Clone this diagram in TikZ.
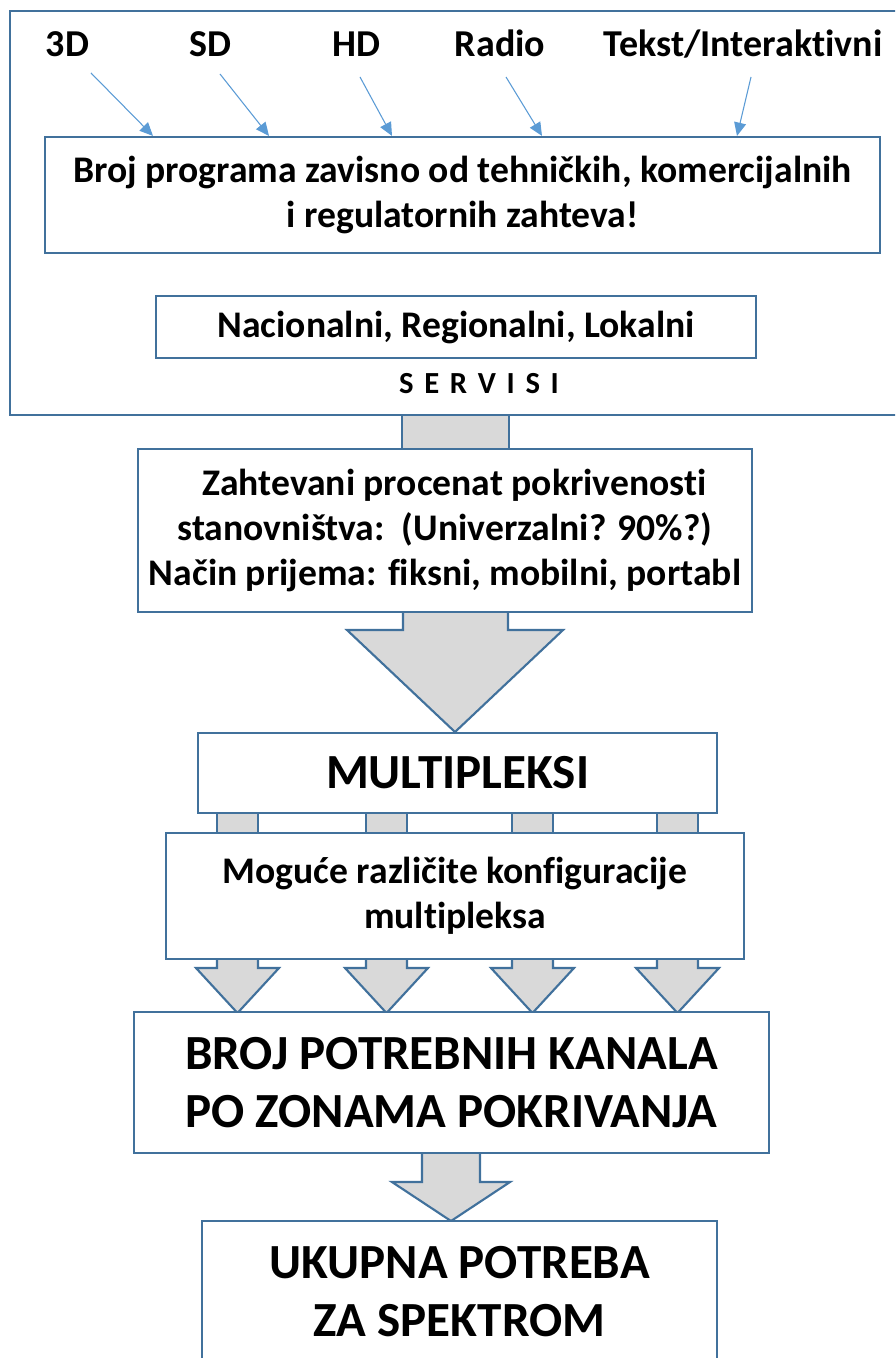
\documentclass[tikz,border=0pt]{standalone}
\usepackage{fontspec}
\setmainfont{Carlito}[Ligatures=NoCommon]
\usetikzlibrary{arrows.meta}
\definecolor{bord}{HTML}{41719C}
\definecolor{thinb}{HTML}{5B9BD5}
\definecolor{fillg}{HTML}{D9D9D9}
\begin{document}
\begin{tikzpicture}[x=0.75pt,y=-0.75pt,
 box/.style={draw=bord, line width=1.6pt, fill=white, inner sep=0pt, align=center},
 blk/.style={draw=bord, line width=1.6pt, fill=fillg, line join=miter},
 thinarr/.style={draw=thinb, line width=0.8pt, -{Triangle[length=10pt,width=9pt]}},
 lbl/.style={font=\fontsize{28.5}{32}\selectfont\bfseries, inner sep=0pt, anchor=base},
 mid/.style={font=\fontsize{28.2}{33.5}\selectfont\bfseries},
 big/.style={font=\fontsize{36.8}{44}\selectfont\bfseries}
]
\useasboundingbox (0,0) rectangle (895,1358);
\clip (0,0) rectangle (895,1358);
% outer frame
\draw[draw=bord, line width=1.6pt] (10,11) rectangle (910,415);
% block arrows
\draw[blk] (402,415) rectangle (509,455);
\draw[blk] (403,605) -- (403,630) -- (347,630) -- (455,732) -- (563,630) -- (508,630) -- (508,605) -- cycle;
\foreach \cx in {237.5,386.5,532.5,677.5}{
  \draw[blk] (\cx-20.5,805) rectangle (\cx+20.5,840);
  \draw[blk] (\cx-20.5,950) -- (\cx-20.5,968) -- (\cx-41.5,968) -- (\cx,1013) -- (\cx+41.5,968) -- (\cx+20.5,968) -- (\cx+20.5,950) -- cycle;
}
\draw[blk] (422,1145) -- (422,1182) -- (392,1182) -- (451,1221) -- (510,1182) -- (480,1182) -- (480,1145) -- cycle;
% boxes
\node[box,mid,minimum width=835*0.75pt,minimum height=116*0.75pt] (b1) at (462.5,195) {Broj programa zavisno od tehničkih, komercijalnih\\i regulatornih zahteva!};
\node[box,mid,minimum width=600*0.75pt,minimum height=62*0.75pt] (b2) at (456,327) {Nacionalni, Regionalni, Lokalni};
\node[font=\fontsize{23}{26}\selectfont\bfseries, inner sep=0pt] (serv) at (479,384) {S\hspace{8pt}E\hspace{8pt}R\hspace{8pt}V\hspace{8pt}I\hspace{8pt}S\hspace{8pt}I};
\node[box,mid,minimum width=614*0.75pt,minimum height=163*0.75pt] (b3) at (445,530.5) {\hspace{0.5em}Zahtevani procenat pokrivenosti\\stanovništva:~~(Univerzalni? 90\%?)\\Način prijema: fiksni, mobilni, portabl};
\node[box,big,minimum width=519*0.75pt,minimum height=80*0.75pt] (b4) at (457.5,773) {MULTIPLEKSI};
\node[box,mid,minimum width=578*0.75pt,minimum height=126*0.75pt] (b5) at (455,896) {Moguće različite konfiguracije\\multipleksa};
\node[box,big,minimum width=635*0.75pt,minimum height=141*0.75pt] (b6) at (451.5,1082.5) {BROJ POTREBNIH KANALA\\PO ZONAMA POKRIVANJA};
\node[box,big,minimum width=515*0.75pt,minimum height=141*0.75pt] (b7) at (459.5,1291.5) {UKUPNA POTREBA\\ZA SPEKTROM};
% labels
\node[lbl] (l1) at (67.5,57) {3D};
\node[lbl] (l2) at (210,57) {SD};
\node[lbl] (l3) at (356,57) {HD};
\node[lbl] (l4) at (500,57) {Radio};
\node[lbl] (l5) at (743,57) {Tekst/Interakt\kern0pt ivni};
\coordinate (s1) at (91,73);
\coordinate (s2) at (220,74);
\coordinate (s3) at (360,77);
\coordinate (s4) at (506,77);
\coordinate (s5) at (751,77);
\draw[thinarr] (s1) -- (b1.north -| 153,0);
\draw[thinarr] (s2) -- (b1.north -| 269,0);
\draw[thinarr] (s3) -- (b1.north -| 392,0);
\draw[thinarr] (s4) -- (b1.north -| 542,0);
\draw[thinarr] (s5) -- (b1.north -| 737,0);
\end{tikzpicture}
\end{document}
